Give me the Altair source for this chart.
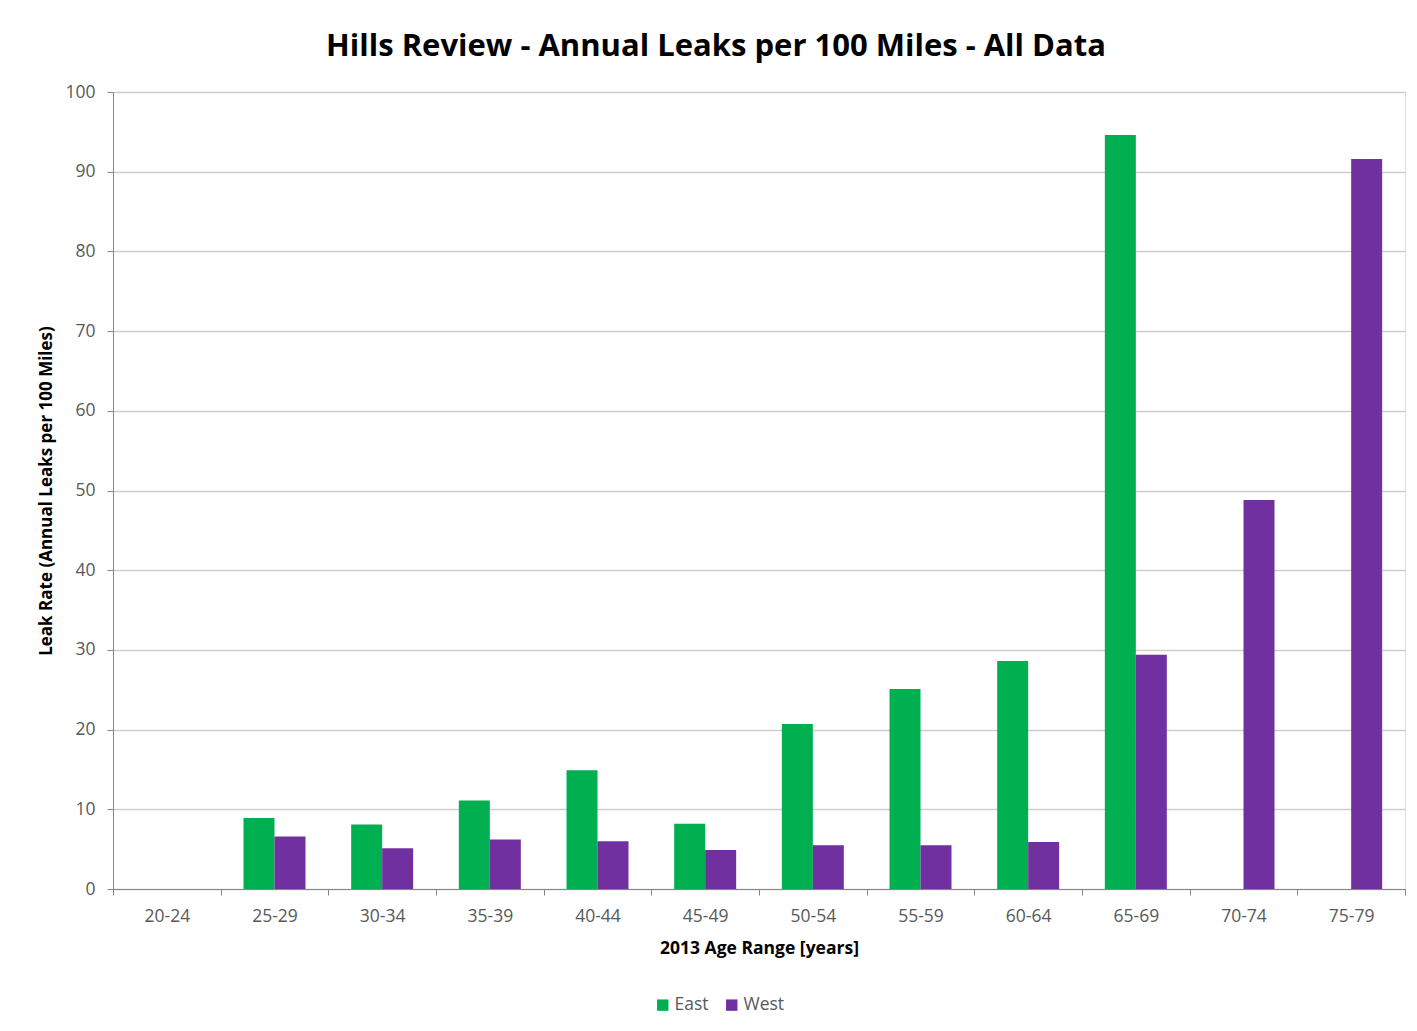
import altair as alt
import pandas as pd

categories = ["20-24", "25-29", "30-34", "35-39", "40-44", "45-49",
              "50-54", "55-59", "60-64", "65-69", "70-74", "75-79"]
east = [0, 8.9, 8.1, 11.1, 14.9, 8.2, 20.7, 25.1, 28.6, 94.6, 0, 0]
west = [0, 6.6, 5.1, 6.2, 6.0, 4.9, 5.5, 5.5, 5.9, 29.4, 48.8, 91.6]
series = ["East", "West"]
colors = ["#00B050", "#7030A0"]

rows = []
for i, c in enumerate(categories):
    rows.append({"age": c, "region": "East", "rate": east[i]})
    rows.append({"age": c, "region": "West", "rate": west[i]})
df = pd.DataFrame(rows)

FONT = "Open Sans"
AX = "#868686"

chart = alt.Chart(df).mark_bar().encode(
    x=alt.X("age:N", sort=categories,
            scale=alt.Scale(paddingInner=0, paddingOuter=0),
            axis=alt.Axis(title="2013 Age Range [years]", labelAngle=0,
                          tickBand="extent", grid=False,
                          domainColor=AX, tickColor=AX, tickSize=6,
                          labelColor="#595959", labelFontSize=17.5, labelFont=FONT,
                          labelPadding=12,
                          titleFont=FONT, titleFontSize=17.5, titleFontWeight="bold",
                          titleColor="#000000", titlePadding=15)),
    xOffset=alt.XOffset("region:N", sort=series,
                        scale=alt.Scale(paddingInner=0, paddingOuter=0.737)),
    y=alt.Y("rate:Q",
            scale=alt.Scale(domain=[0, 100], nice=False),
            axis=alt.Axis(title="Leak Rate (Annual Leaks per 100 Miles)",
                          values=list(range(0, 101, 10)),
                          domainColor=AX, tickColor=AX, tickSize=6,
                          gridColor="#CDCDCD", gridWidth=1.5,
                          labelColor="#595959", labelFontSize=17.5, labelFont=FONT,
                          labelPadding=12,
                          titleFont=FONT, titleFontSize=17, titleFontWeight="bold",
                          titleColor="#000000", titlePadding=9)),
    color=alt.Color("region:N", sort=series,
                    scale=alt.Scale(domain=series, range=colors),
                    legend=alt.Legend(title=None, orient="none", direction="horizontal",
                                      legendX=541, legendY=904,
                                      symbolType="square", symbolSize=130,
                                      symbolStrokeWidth=0,
                                      labelFont=FONT, labelFontSize=17.5,
                                      labelColor="#595959", columnPadding=14,
                                      labelOffset=3)),
).properties(
    width=1292, height=797,
    title=alt.TitleParams("Hills Review - Annual Leaks per 100 Miles - All Data",
                          font=FONT, fontSize=31, fontWeight="bold", color="#000000",
                          anchor="middle", dx=-43, offset=20),
    padding={"left": 105, "top": 84, "right": 4, "bottom": 130},
    autosize=alt.AutoSizeParams(type="none"),
).configure_view(stroke=None).configure(background="white")

chart.save("out.html", embed_options={"renderer": "svg", "actions": False})
